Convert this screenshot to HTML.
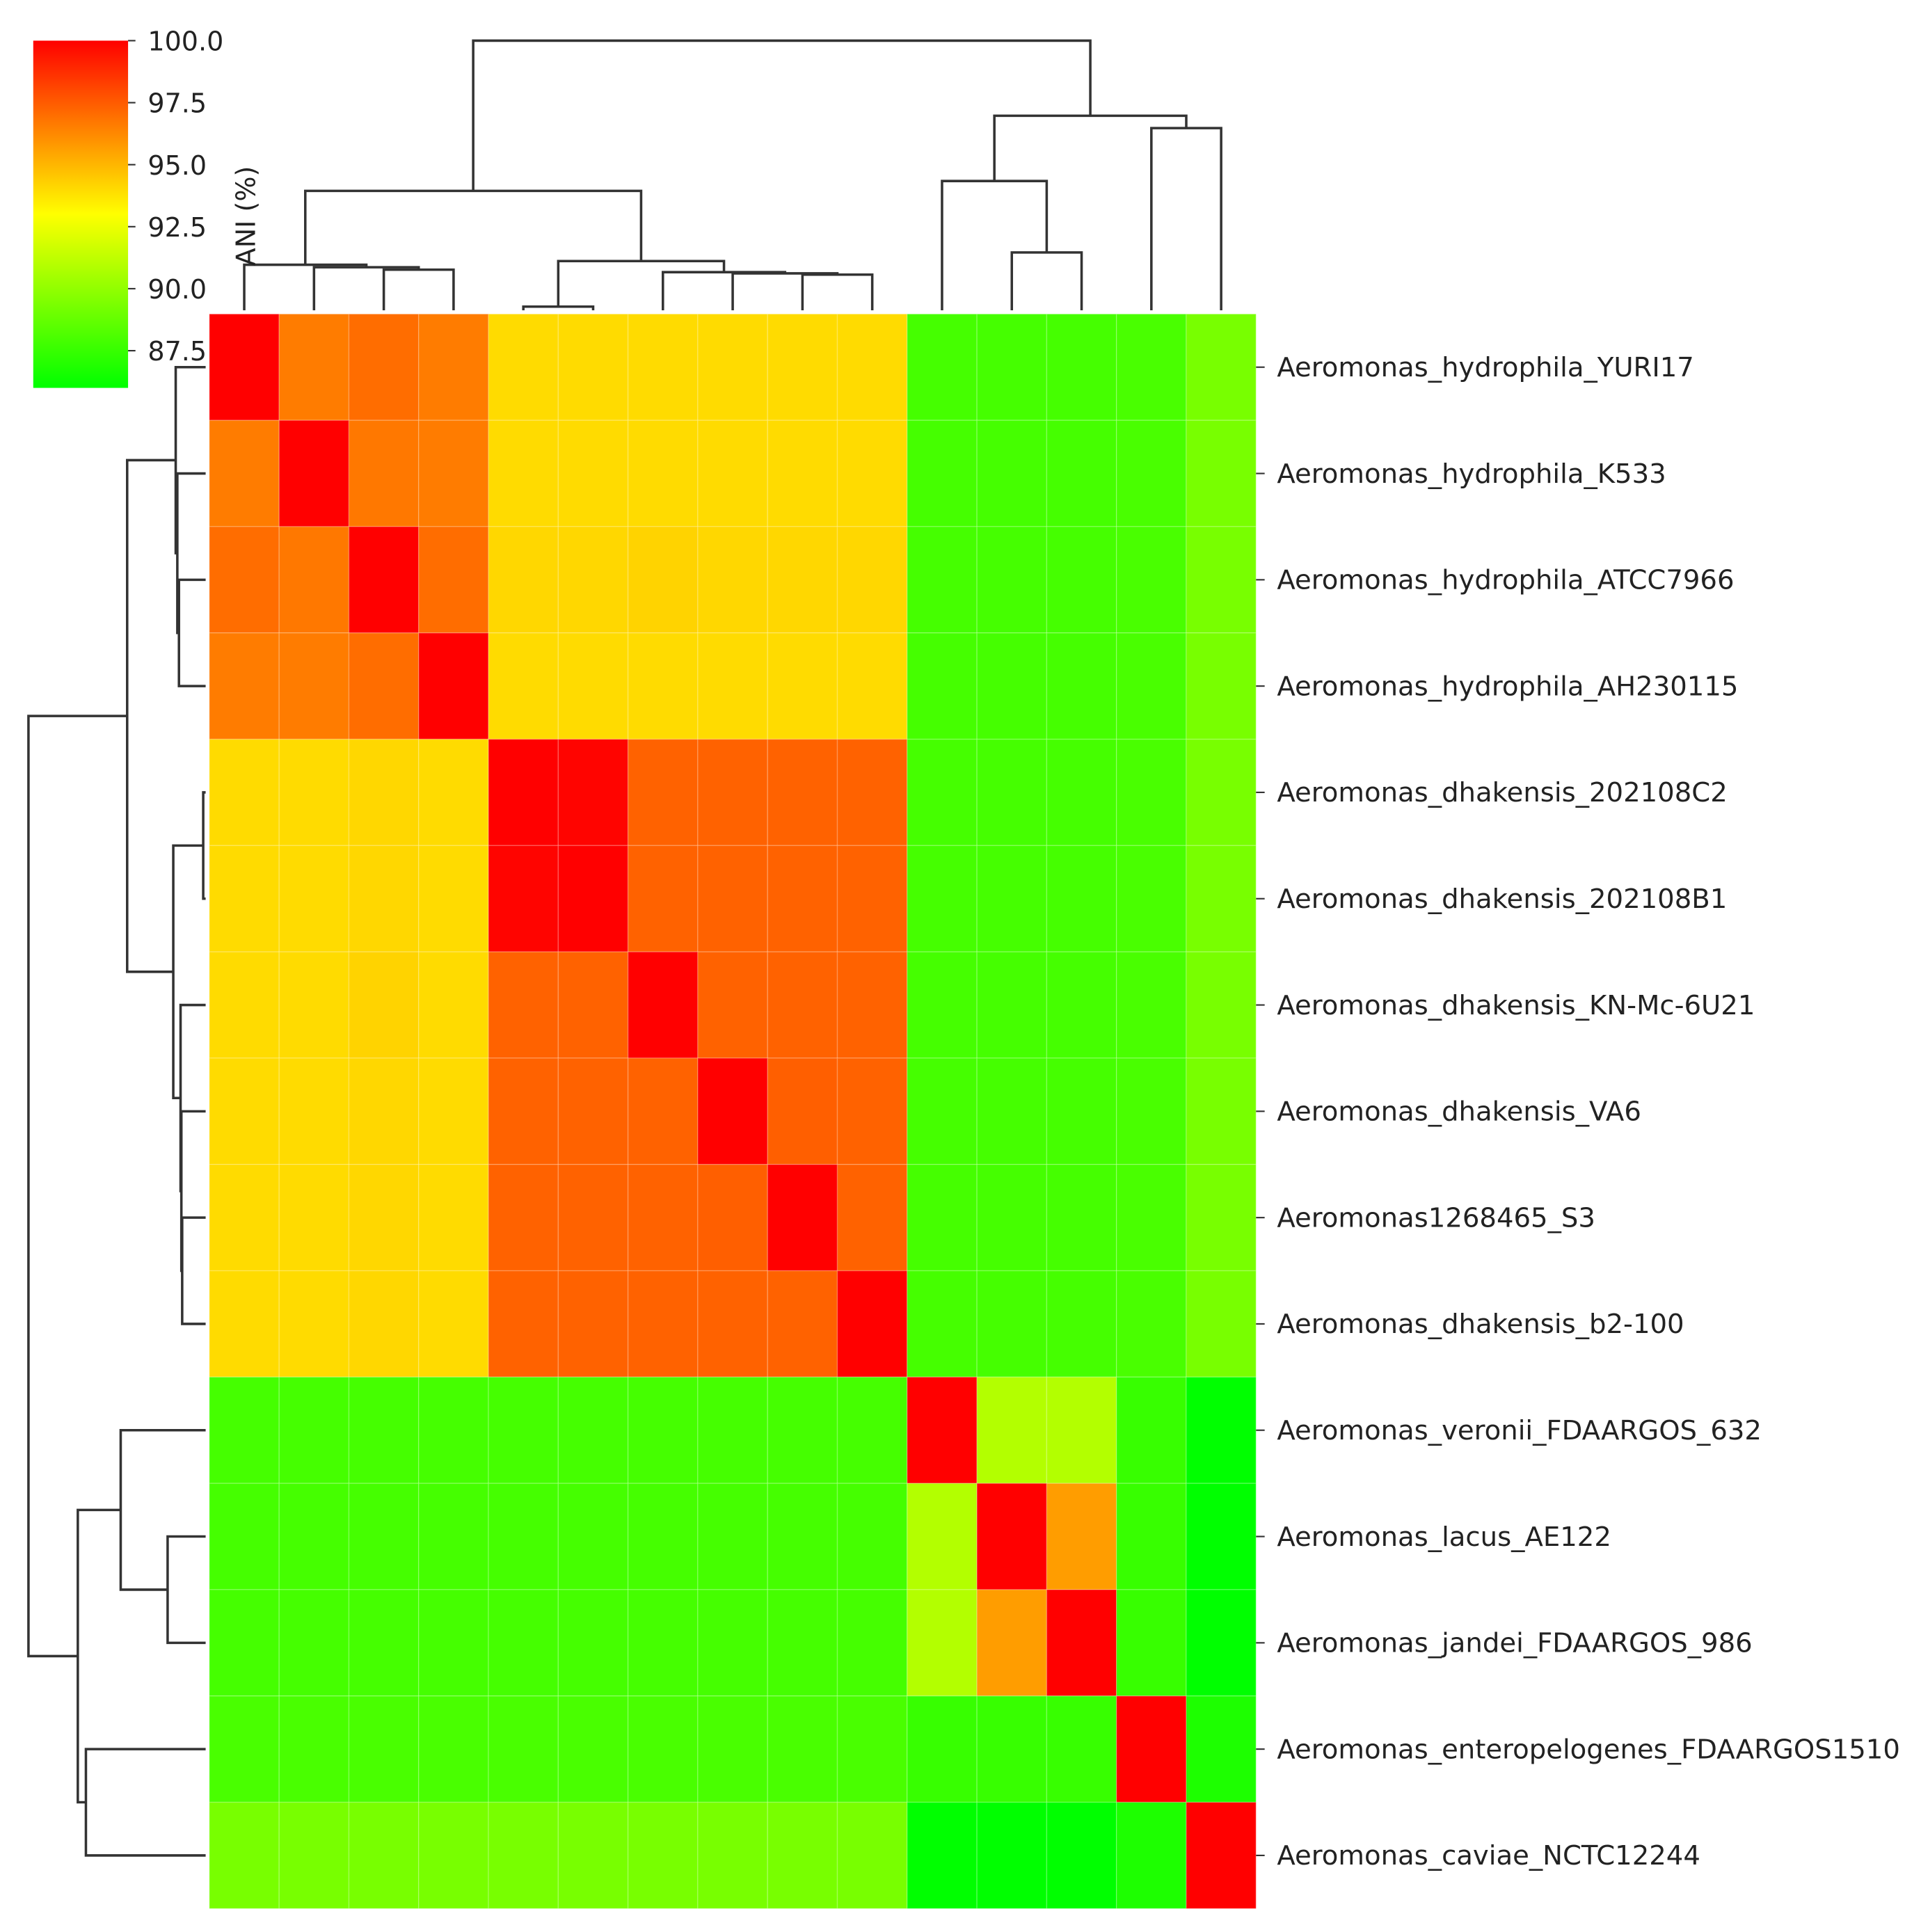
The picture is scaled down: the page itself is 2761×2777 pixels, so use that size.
<!DOCTYPE html>
<html><head><meta charset="utf-8"><style>
html,body{margin:0;padding:0;background:#fff;}
svg{display:block;}
text{font-family:"DejaVu Sans","Liberation Sans",sans-serif;fill:#222;}
</style></head><body>
<svg id="chart" xmlns="http://www.w3.org/2000/svg" width="2761" height="2777" viewBox="0 0 1560 1569">
<defs><linearGradient id="cbg" x1="0" y1="1" x2="0" y2="0">
<stop offset="0" stop-color="#00ff00"/><stop offset="0.5" stop-color="#ffff00"/><stop offset="1" stop-color="#ff0000"/>
</linearGradient></defs>
<g id="cells"></g>
<g id="dendro"></g>
<g id="labels"></g>
<g id="cbar">
<rect x="27" y="33" width="77" height="282" fill="url(#cbg)"/>
</g>
<text transform="translate(207,216) rotate(-90)" font-size="21.5">ANI (%)</text>
</svg>
<script>
const labels = ["Aeromonas_hydrophila_YURI17","Aeromonas_hydrophila_K533","Aeromonas_hydrophila_ATCC7966","Aeromonas_hydrophila_AH230115","Aeromonas_dhakensis_202108C2","Aeromonas_dhakensis_202108B1","Aeromonas_dhakensis_KN-Mc-6U21","Aeromonas_dhakensis_VA6","Aeromonas1268465_S3","Aeromonas_dhakensis_b2-100","Aeromonas_veronii_FDAARGOS_632","Aeromonas_lacus_AE122","Aeromonas_jandei_FDAARGOS_986","Aeromonas_enteropelogenes_FDAARGOS1510","Aeromonas_caviae_NCTC12244"];
const ani = [
[100,96.6,97.0,96.6,94.0,94.0,94.0,94.0,94.0,94.0,87.9,87.9,87.9,88.0,89.3],
[96.6,100,96.7,96.6,94.0,94.0,94.0,94.0,94.0,94.0,87.9,87.9,87.9,88.0,89.3],
[97.0,96.7,100,97.0,94.1,94.1,94.2,94.1,94.1,94.1,87.9,87.9,87.9,88.0,89.3],
[96.6,96.6,97.0,100,94.0,94.0,94.0,94.0,94.0,94.0,87.9,87.9,87.9,88.0,89.3],
[94.0,94.0,94.1,94.0,100,99.9,97.3,97.3,97.3,97.3,87.9,87.9,87.9,88.0,89.3],
[94.0,94.0,94.1,94.0,99.9,100,97.3,97.3,97.3,97.3,87.9,87.9,87.9,88.0,89.3],
[94.0,94.0,94.2,94.0,97.3,97.3,100,97.3,97.3,97.3,87.9,87.9,87.9,88.0,89.3],
[94.0,94.0,94.1,94.0,97.3,97.3,97.3,100,97.4,97.3,87.9,87.9,87.9,88.0,89.3],
[94.0,94.0,94.1,94.0,97.3,97.3,97.3,97.4,100,97.3,87.9,87.9,87.9,88.0,89.3],
[94.0,94.0,94.1,94.0,97.3,97.3,97.3,97.3,97.3,100,87.9,87.9,87.9,88.0,89.3],
[87.9,87.9,87.9,87.9,87.9,87.9,87.9,87.9,87.9,87.9,100,90.9,90.9,87.5,86.0],
[87.9,87.9,87.9,87.9,87.9,87.9,87.9,87.9,87.9,87.9,90.9,100,95.7,87.5,86.0],
[87.9,87.9,87.9,87.9,87.9,87.9,87.9,87.9,87.9,87.9,90.9,95.7,100,87.5,86.0],
[88.0,88.0,88.0,88.0,88.0,88.0,88.0,88.0,88.0,88.0,87.5,87.5,87.5,100,86.8],
[89.3,89.3,89.3,89.3,89.3,89.3,89.3,89.3,89.3,89.3,86.0,86.0,86.0,86.8,100]];
const cbTicks = [100.0, 97.5, 95.0, 92.5, 90.0, 87.5];
// linkage: [left, right, distance]; leaves 0..14, clusters 15+
const linkage = [[4,5,3],[8,9,29],[7,16,30],[6,17,31],[2,3,33],[1,19,35],[0,20,37],[15,18,40],[11,12,47],[21,22,97],[10,23,105],[13,14,148],[25,26,158],[24,27,219]];

const NS="http://www.w3.org/2000/svg";
const HX0=170,HX1=1020,HY0=255,HY1=1550,N=labels.length;
const cw=(HX1-HX0)/N, ch=(HY1-HY0)/N;
const VMIN=86,VMAX=100;
function colX(i){return HX0+cw*(i+0.5);}
function rowY(i){return HY0+ch*(i+0.5);}
function color(v){
  const t=Math.max(0,Math.min(1,(v-VMIN)/(VMAX-VMIN)));
  let r,g;
  if(t<0.5){r=Math.round(255*t*2);g=255;}else{r=255;g=Math.round(255*(1-t)*2);}
  return `rgb(${r},${g},0)`;
}
function cbY(v){return 33+(VMAX-v)/(VMAX-VMIN)*282;}
function mk(tag,attrs,parent){const e=document.createElementNS(NS,tag);for(const k in attrs)e.setAttribute(k,attrs[k]);parent.appendChild(e);return e;}

const cells=document.getElementById('cells');
for(let r=0;r<N;r++)for(let c=0;c<N;c++){
  const e=mk('rect',{x:HX0+c*cw,y:HY0+r*ch,width:cw,height:ch,fill:color(ani[r][c]),stroke:'rgba(255,255,255,0.22)','stroke-width':0.8},cells);
  
  
}
const lab=document.getElementById('labels');
labels.forEach((l,i)=>{
  const t=mk('line',{x1:HX1,x2:HX1+7,y1:rowY(i),y2:rowY(i),stroke:'#333','stroke-width':1.2},lab);
  
  
  const e=mk('text',{x:1037,y:rowY(i)+7.5,'font-size':21.8},lab);
  e.textContent=l;
  
  
});
const cb=document.getElementById('cbar');
cbTicks.forEach(v=>{
  const y=cbY(v);
  const t=mk('line',{x1:104,x2:110,y1:y,y2:y,stroke:'#333','stroke-width':1.2},cb);
  
  
  const e=mk('text',{x:120,y:y+8,'font-size':21.5},cb);
  e.textContent=v.toFixed(1);
  
  
});
// dendrograms
const den=document.getElementById('dendro');
const pos={},ht={};
for(let i=0;i<N;i++){pos[i]=i;ht[i]=0;}
const TOPS=1.0, LEFTS=0.657;
linkage.forEach((lk,k)=>{
  const [a,b,d]=lk; const id=N+k;
  const xa=colX(pos[a]),xb=colX(pos[b]);
  const ya=HY0-3-ht[a]*TOPS, yb=HY0-3-ht[b]*TOPS, yd=HY0-3-d*TOPS;
  const p1=mk('path',{d:`M${xa},${ya}V${yd}H${xb}V${yb}`,fill:'none',stroke:'#333','stroke-width':2},den);
  
  
  const ra=rowY(pos[a]),rb=rowY(pos[b]);
  const la=HX0-3-ht[a]*LEFTS, lb=HX0-3-ht[b]*LEFTS, ld=HX0-3-d*LEFTS;
  const p2=mk('path',{d:`M${la},${ra}H${ld}V${rb}H${lb}`,fill:'none',stroke:'#333','stroke-width':2},den);
  
  
  pos[id]=(pos[a]+pos[b])/2; ht[id]=d;
});
</script>
</body></html>
